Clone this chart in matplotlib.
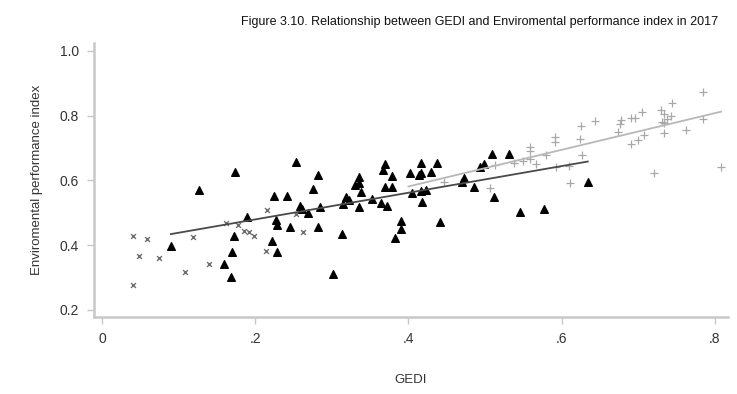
import matplotlib
matplotlib.use('Agg')
import matplotlib.pyplot as plt

# GEDI vs Environmental performance index, three country groups
x_low = [0.040, 0.059, 0.119, 0.049, 0.075, 0.109, 0.140, 0.041, 0.162, 0.177,
         0.185, 0.192, 0.199, 0.216, 0.214, 0.262, 0.253]
y_low = [0.428, 0.419, 0.426, 0.367, 0.360, 0.316, 0.341, 0.276, 0.469, 0.462,
         0.444, 0.440, 0.429, 0.509, 0.383, 0.440, 0.496]

x_mid = [0.127, 0.174, 0.189, 0.090, 0.172, 0.170, 0.159, 0.169,
         0.253, 0.282, 0.276, 0.225, 0.242, 0.259, 0.261, 0.269, 0.285, 0.314,
         0.319, 0.227, 0.229, 0.245, 0.282, 0.313, 0.222, 0.229, 0.301,
         0.322, 0.335, 0.330, 0.336, 0.335, 0.338, 0.352, 0.364, 0.372, 0.369,
         0.367, 0.378, 0.370, 0.378, 0.402, 0.404, 0.414, 0.390, 0.390, 0.383,
         0.417, 0.437, 0.417, 0.430, 0.417, 0.423, 0.418, 0.470, 0.473, 0.485,
         0.493, 0.498, 0.509, 0.531, 0.512, 0.545, 0.577, 0.441, 0.634]
y_mid = [0.570, 0.625, 0.486, 0.398, 0.429, 0.378, 0.343, 0.300,
         0.656, 0.615, 0.573, 0.553, 0.551, 0.522, 0.512, 0.499, 0.519, 0.527,
         0.550, 0.476, 0.462, 0.455, 0.455, 0.434, 0.412, 0.378, 0.310,
         0.539, 0.519, 0.586, 0.610, 0.591, 0.563, 0.542, 0.531, 0.521, 0.651,
         0.632, 0.614, 0.578, 0.578, 0.622, 0.560, 0.617, 0.473, 0.449, 0.421,
         0.655, 0.653, 0.622, 0.627, 0.566, 0.569, 0.532, 0.596, 0.606, 0.578,
         0.640, 0.650, 0.680, 0.680, 0.547, 0.501, 0.511, 0.470, 0.594]

x_high = [0.447, 0.506, 0.513, 0.538, 0.550, 0.559, 0.559, 0.559, 0.567, 0.580,
          0.591, 0.591, 0.592, 0.611, 0.610, 0.625, 0.624, 0.626, 0.643, 0.673,
          0.676, 0.678, 0.691, 0.695, 0.705, 0.691, 0.700, 0.707, 0.721, 0.729,
          0.733, 0.731, 0.733, 0.738, 0.744, 0.743, 0.733, 0.762, 0.785, 0.785,
          0.808]
y_high = [0.596, 0.576, 0.646, 0.655, 0.661, 0.704, 0.692, 0.665, 0.651, 0.678,
          0.735, 0.717, 0.642, 0.591, 0.644, 0.769, 0.727, 0.678, 0.783, 0.750,
          0.773, 0.785, 0.792, 0.792, 0.810, 0.712, 0.723, 0.740, 0.624, 0.817,
          0.804, 0.781, 0.776, 0.789, 0.838, 0.800, 0.745, 0.754, 0.873, 0.789,
          0.642]

# fitted lines (end points)
fit_dark_x = [0.090, 0.634]
fit_dark_y = [0.434, 0.658]
fit_light_x = [0.400, 0.808]
fit_light_y = [0.581, 0.812]

xticks = [0, 0.2, 0.4, 0.6, 0.8]
xtick_labels = ['0', '.2', '.4', '.6', '.8']
yticks = [0.2, 0.4, 0.6, 0.8, 1.0]
ytick_labels = ['0.2', '0.4', '0.6', '0.8', '1.0']


def main():
    plt.rcParams['font.family'] = ['Liberation Sans', 'DejaVu Sans']

    fig = plt.figure(figsize=(7.37, 3.94), dpi=100)
    ax = fig.add_axes([0.1275, 0.1954, 0.8603, 0.6955])

    ax.scatter(x_low, y_low, marker='x', s=12, color='#6e6e6e', linewidths=1.0, zorder=3)
    ax.scatter(x_mid, y_mid, marker='^', s=30, color='black', zorder=4)
    ax.scatter(x_high, y_high, marker='+', s=28, color='#a8a8a8', linewidths=0.9, zorder=3)

    ax.plot(fit_dark_x, fit_dark_y, color='#4a4a4a', lw=1.3, zorder=5)
    ax.plot(fit_light_x, fit_light_y, color='#b8b8b8', lw=1.3, zorder=5)

    ax.set_xlim(-0.0104, 0.817)
    ax.set_ylim(0.178, 1.024)
    ax.set_xticks(xticks)
    ax.set_xticklabels(xtick_labels)
    ax.set_yticks(yticks)
    ax.set_yticklabels(ytick_labels)

    for s in ['top', 'right']:
        ax.spines[s].set_visible(False)
    for s in ['left', 'bottom']:
        ax.spines[s].set_color('#c8c8c8')
        ax.spines[s].set_linewidth(1.8)
    ax.tick_params(axis='both', direction='out', length=5, width=1.0,
                   color='#c8c8c8', labelcolor='#333333', labelsize=10, pad=6)

    ax.set_xlabel('GEDI', fontsize=9.5, color='#333333', labelpad=20)
    ax.set_ylabel('Enviromental performance index', fontsize=9.5, color='#333333', labelpad=12)

    fig.text(718 / 737, 1 - 22 / 394,
             'Figure 3.10. Relationship between GEDI and Enviromental performance index in 2017',
             ha='right', va='center', fontsize=9, color='#111111')

    fig.savefig('out.png', dpi=100)


if __name__ == '__main__':
    main()
